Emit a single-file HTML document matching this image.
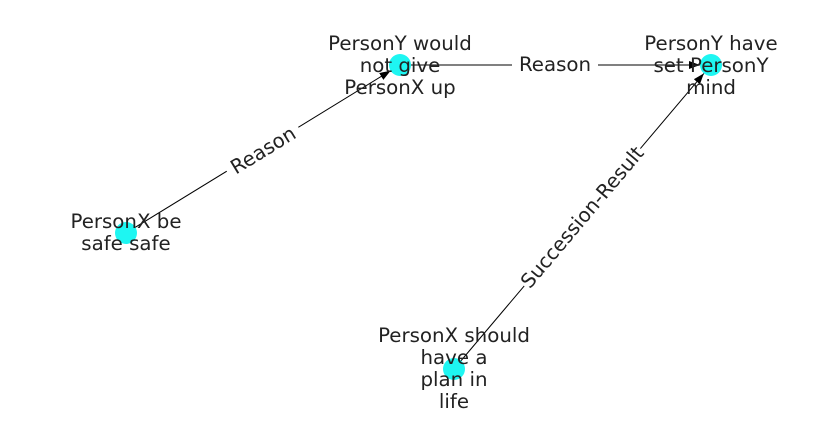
<!DOCTYPE html>
<html><head><meta charset="utf-8"><style>
html,body{margin:0;padding:0;background:#fff;}
svg text{font-family:"DejaVu Sans","Liberation Sans",sans-serif;font-size:19.8px;fill:#222;}
</style></head><body>
<svg width="837" height="434" viewBox="0 0 837 434" xmlns="http://www.w3.org/2000/svg">
<defs><marker id="a" markerWidth="12" markerHeight="10" refX="11" refY="4" orient="auto" markerUnits="userSpaceOnUse"><path d="M0,0 L11,4 L0,8 Z" fill="#000"/></marker></defs>
<g stroke="#000" stroke-width="1" fill="none">
<line x1="126" y1="233" x2="390.6" y2="70.7" marker-end="url(#a)"/>
<line x1="400" y1="65" x2="700" y2="65" marker-end="url(#a)"/>
<line x1="454" y1="369" x2="703.9" y2="73.4" marker-end="url(#a)"/>
</g>
<g fill="#1ef6f2">
<circle cx="126" cy="233" r="11"/><circle cx="400" cy="65" r="11"/>
<circle cx="711" cy="65" r="11"/><circle cx="454" cy="369" r="11"/>
</g>
<g text-anchor="middle">
<g transform="translate(263,150) rotate(-31.5)"><rect x="-42" y="-13" width="84" height="26" fill="#fff"/><text y="7">Reason</text></g>
<rect x="512" y="51" width="86" height="26" fill="#fff"/><text x="555" y="71">Reason</text>
<g transform="translate(582,217) rotate(-49.8)"><rect x="-90" y="-13" width="180" height="26" fill="#fff"/><text y="7">Succession-Result</text></g>
<text x="126" y="228">PersonX be</text><text x="126" y="250">safe safe</text>
<text x="400" y="50">PersonY would</text><text x="400" y="72">not give</text><text x="400" y="94">PersonX up</text>
<text x="711" y="50">PersonY have</text><text x="711" y="72">set PersonY</text><text x="711" y="94">mind</text>
<text x="454" y="342">PersonX should</text><text x="454" y="364">have a</text><text x="454" y="386">plan in</text><text x="454" y="408">life</text>
</g>
</svg>
</body></html>
